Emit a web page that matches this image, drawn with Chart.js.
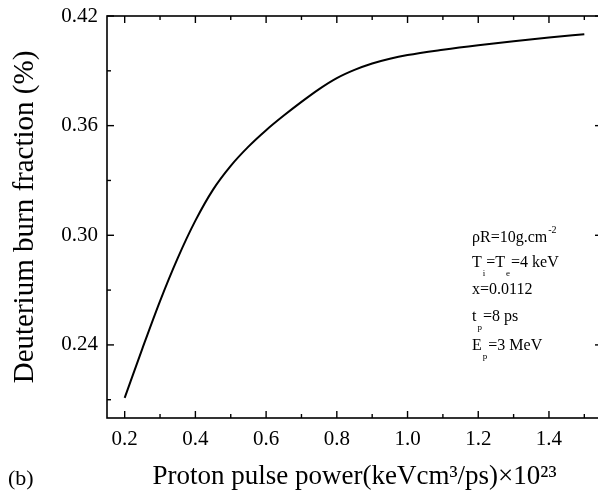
<!DOCTYPE html>
<html>
<head>
<meta charset="utf-8">
<script src="https://cdn.jsdelivr.net/npm/chart.js@4/dist/chart.umd.min.js"></script>
<style>
  html, body { margin: 0; padding: 0; background: #fff; overflow: hidden; }
  #wrap { position: relative; width: 610px; height: 493px; }
</style>
</head>
<body>
<div id="wrap"><canvas id="c"></canvas></div>
<script>
// ---- data ----
const power = [0.20, 0.25, 0.30, 0.35, 0.40, 0.45, 0.50, 0.55, 0.60, 0.65, 0.70, 0.75, 0.80, 0.85, 0.90, 0.95, 1.00, 1.10, 1.20, 1.30, 1.40, 1.50];
const burnFraction = [0.211, 0.238, 0.264, 0.2875, 0.308, 0.325, 0.338, 0.3485, 0.3575, 0.3655, 0.373, 0.380, 0.386, 0.3905, 0.394, 0.3966, 0.3986, 0.4015, 0.404, 0.4062, 0.4082, 0.410];
const xTickLabels = [0.2, 0.4, 0.6, 0.8, 1.0, 1.2, 1.4];
const xMinorTicks = [0.3, 0.5, 0.7, 0.9, 1.1, 1.3, 1.5];
const yTickLabels = [0.24, 0.30, 0.36, 0.42];
const yMinorTicks = [0.21, 0.27, 0.33, 0.39];
const xTitle = 'Proton pulse power(keVcm\u00B3/ps)\u00D710\u00B2\u00B3';
const yTitle = 'Deuterium burn fraction (%)';
const panelLabel = '(b)';
// annotation lines: arrays of [text, kind] where kind: n=normal, sub, sup
const noteLines = [
  [['\u03C1R=10g.cm', 'n'], ['-2', 'sup']],
  [['T', 'n'], ['i', 'sub'], ['=T', 'n'], ['e', 'sub'], ['=4 keV', 'n']],
  [['x=0.0112', 'n']],
  [['t', 'n'], ['p', 'sub'], ['=8 ps', 'n']],
  [['E', 'n'], ['p', 'sub'], ['=3 MeV', 'n']]
];

const SERIF = '"Liberation Serif", "Times New Roman", serif';

const framePlugin = {
  id: 'frame',
  afterDraw(chart) {
    const ctx = chart.ctx;
    const {left, right, top, bottom} = chart.chartArea;
    const xs = chart.scales.x, ys = chart.scales.y;
    ctx.save();
    ctx.strokeStyle = '#000';
    ctx.lineWidth = 1.6;
    ctx.strokeRect(left, top, right - left, bottom - top);
    ctx.lineWidth = 1.4;
    const tick = (x1, y1, x2, y2) => { ctx.beginPath(); ctx.moveTo(x1, y1); ctx.lineTo(x2, y2); ctx.stroke(); };
    xTickLabels.forEach(v => { const p = xs.getPixelForValue(v); tick(p, bottom, p, bottom - 7); tick(p, top, p, top + 7); });
    xMinorTicks.forEach(v => { const p = xs.getPixelForValue(v); tick(p, bottom, p, bottom - 4); tick(p, top, p, top + 4); });
    yTickLabels.forEach(v => { const p = ys.getPixelForValue(v); tick(left, p, left + 7, p); tick(right, p, right - 7, p); });
    yMinorTicks.forEach(v => { const p = ys.getPixelForValue(v); tick(left, p, left + 4, p); tick(right, p, right - 4, p); });

    // panel label
    ctx.fillStyle = '#000';
    ctx.textBaseline = 'alphabetic';
    ctx.textAlign = 'left';
    ctx.font = '22px ' + SERIF;
    ctx.fillText(panelLabel, 8, 485);

    // annotation
    const x0 = 472;
    const baselines = [242, 267, 294, 321, 350];
    noteLines.forEach((parts, i) => {
      let x = x0;
      const yb = baselines[i];
      parts.forEach(([t, k]) => {
        if (k === 'n') {
          ctx.font = '16px ' + SERIF;
          ctx.fillText(t, x, yb);
          x += ctx.measureText(t).width;
        } else if (k === 'sub') {
          ctx.font = '9px ' + SERIF;
          ctx.fillText(t, x + 1, yb + 9);
          x += ctx.measureText(t).width + 2;
        } else {
          ctx.font = '10px ' + SERIF;
          ctx.fillText(t, x + 1, yb - 9);
          x += ctx.measureText(t).width + 1;
        }
      });
    });
    ctx.restore();
  }
};

new Chart(document.getElementById('c'), {
  type: 'line',
  data: {
    datasets: [{
      data: power.map((p, i) => ({x: p, y: burnFraction[i]})),
      borderColor: '#000',
      borderWidth: 2,
      pointRadius: 0,
      fill: false,
      cubicInterpolationMode: 'monotone'
    }]
  },
  options: {
    responsive: true,
    maintainAspectRatio: false,
    animation: false,
    layout: { padding: { top: 16, right: 8, left: 0, bottom: 0 } },
    plugins: { legend: { display: false }, tooltip: { enabled: false } },
    scales: {
      x: {
        type: 'linear',
        min: 0.15, max: 1.55,
        afterBuildTicks: s => { s.ticks = xTickLabels.map(v => ({value: v})); },
        afterFit: s => { s.height = 75; s.paddingLeft = 0; s.paddingRight = 0; },
        grid: { display: false, drawTicks: false },
        border: { display: false },
        ticks: {
          color: '#000', padding: 9, maxRotation: 0, autoSkip: false,
          font: { family: SERIF, size: 21 },
          callback: v => Number(v).toFixed(1)
        },
        title: {
          display: true, text: xTitle, color: '#000',
          font: { family: SERIF, size: 27 },
          padding: { top: 0, bottom: 0 }
        }
      },
      y: {
        type: 'linear',
        min: 0.20, max: 0.42,
        afterBuildTicks: s => { s.ticks = yTickLabels.map(v => ({value: v})); },
        afterFit: s => { s.width = 107; s.paddingTop = 0; s.paddingBottom = 0; },
        grid: { display: false, drawTicks: false },
        border: { display: false },
        ticks: {
          color: '#000', padding: 9, autoSkip: false,
          font: { family: SERIF, size: 21 },
          callback: v => Number(v).toFixed(2)
        },
        title: {
          display: true, text: yTitle, color: '#000',
          font: { family: SERIF, size: 29 },
          padding: { top: 8, bottom: 0 }
        }
      }
    }
  },
  plugins: [framePlugin]
});
</script>
</body>
</html>
